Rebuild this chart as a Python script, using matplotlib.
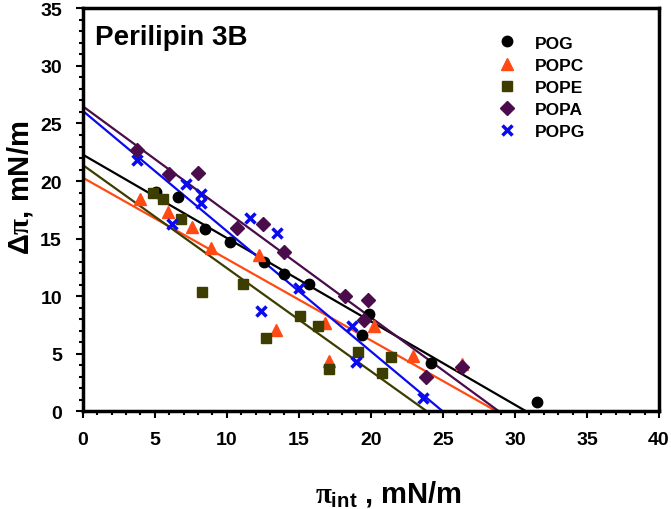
import numpy as np
import matplotlib
matplotlib.use('Agg')
import matplotlib.pyplot as plt
from matplotlib.ticker import MultipleLocator

plt.rcParams['font.family'] = ['Liberation Sans', 'DejaVu Sans']
plt.rcParams['font.weight'] = 'bold'
plt.rcParams['mathtext.fontset'] = 'custom'
plt.rcParams['mathtext.rm'] = 'Liberation Serif:bold'
plt.rcParams['mathtext.it'] = 'Liberation Serif:bold'
plt.rcParams['mathtext.sf'] = 'Liberation Sans:bold'
plt.rcParams['mathtext.bf'] = 'Liberation Sans:bold'

# Данні
pog_x = [5.1, 6.6, 8.5, 10.2, 12.6, 14.0, 15.7, 19.9, 19.4, 24.2, 31.5]
pog_y = [19.05, 18.6, 15.85, 14.7, 13.0, 11.95, 11.1, 8.5, 6.6, 4.25, 0.85]

popc_x = [4.0, 5.9, 7.6, 8.9, 12.2, 13.4, 16.8, 17.1, 20.2, 22.9, 26.3]
popc_y = [18.45, 17.35, 16.0, 14.2, 13.6, 7.1, 7.65, 4.4, 7.4, 4.85, 4.1]

pope_x = [4.9, 5.6, 6.8, 8.3, 11.1, 12.7, 15.1, 16.3, 17.1, 19.1, 20.8, 21.4]
pope_y = [18.95, 18.45, 16.7, 10.35, 11.1, 6.35, 8.25, 7.45, 3.7, 5.15, 3.3, 4.7]

popa_x = [3.8, 6.0, 8.0, 10.7, 12.5, 14.0, 18.2, 19.8, 19.5, 23.8, 26.3]
popa_y = [22.7, 20.6, 20.7, 15.9, 16.3, 13.85, 10.0, 9.7, 7.9, 3.0, 3.85]

popg_x = [3.8, 6.2, 7.2, 8.2, 8.2, 11.6, 12.4, 13.5, 15.0, 18.7, 19.0, 23.6]
popg_y = [21.8, 16.3, 19.75, 18.9, 18.1, 16.8, 8.7, 15.5, 10.7, 7.45, 4.3, 1.2]

# Лінії регресії: перетин з віссю y та з віссю x
line_y0 = {'POG': 22.3, 'POPC': 20.3, 'POPE': 21.4, 'POPA': 26.5, 'POPG': 26.1}
line_x0 = {'POG': 30.8, 'POPC': 28.75, 'POPE': 23.9, 'POPA': 28.9, 'POPG': 25.0}

series = [
    ('POG', pog_x, pog_y, 'o', 'black', 7.5, 0),
    ('POPC', popc_x, popc_y, '^', '#ff4a14', 8, 0),
    ('POPE', pope_x, pope_y, 's', '#3d3d00', 7.5, 0),
    ('POPA', popa_x, popa_y, 'D', '#4a0c4a', 7, 0),
    ('POPG', popg_x, popg_y, 'x', '#0a0aee', 7.5, 2.5),
]

fig = plt.figure(figsize=(6.71, 5.1), dpi=100)
ax = fig.add_axes([0.1233, 0.1912, 0.8589, 0.7906])

for name, xs, ys, mk, col, ms, mew in series:
    ax.plot([0, line_x0[name]], [line_y0[name], 0], color=col, lw=1.6, zorder=2)

for name, xs, ys, mk, col, ms, mew in series:
    if mk == 'x':
        ax.plot(xs, ys, ls='none', marker=mk, color=col, ms=ms, mew=mew,
                label=name, zorder=3)
    else:
        ax.plot(xs, ys, ls='none', marker=mk, color=col, mec=col, ms=ms,
                label=name, zorder=3)

ax.set_xlim(0, 40)
ax.set_ylim(0, 35)
ax.xaxis.set_major_locator(MultipleLocator(5))
ax.xaxis.set_minor_locator(MultipleLocator(1))
ax.yaxis.set_major_locator(MultipleLocator(5))
ax.yaxis.set_minor_locator(MultipleLocator(1))
ax.tick_params(which='both', direction='out', top=False, right=False,
               width=1.5, labelsize=14)
ax.tick_params(which='major', length=5)
ax.tick_params(axis='y', which='major', pad=10)
ax.tick_params(axis='x', which='major', pad=9)
ax.tick_params(which='minor', length=3)
for lab in ax.get_xticklabels() + ax.get_yticklabels():
    lab.set_fontweight('bold')
for sp in ax.spines.values():
    sp.set_linewidth(2.5)

ax.set_xlabel(r'$\pi_{\mathsf{int}}$ , mN/m', fontsize=21, fontweight='bold')
ax.set_ylabel(r'$\mathsf{\Delta}\pi$, mN/m', fontsize=21, fontweight='bold')
ax.xaxis.set_label_coords(0.53, -0.165)
ax.yaxis.set_label_coords(-0.083, 0.557)

ax.text(0.021, 0.962, 'Perilipin 3B', transform=ax.transAxes, fontsize=20,
        fontweight='bold', va='top', ha='left')

leg = ax.legend(loc='upper right', bbox_to_anchor=(0.884, 0.95), frameon=False,
                prop={'weight': 'bold', 'size': 12.5}, labelspacing=0.4,
                handletextpad=1.0, handlelength=1.2, borderaxespad=0)

fig.savefig('out.png', dpi=100)
